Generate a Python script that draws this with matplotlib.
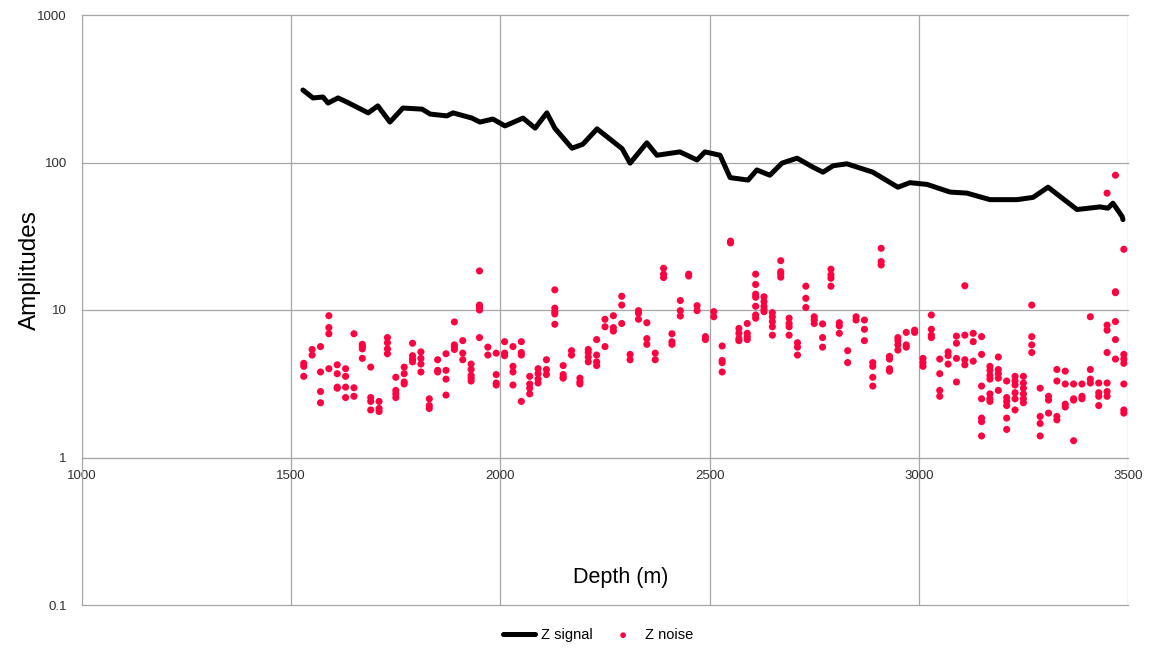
import numpy as np
import matplotlib
matplotlib.use("Agg")
import matplotlib.pyplot as plt
from matplotlib import ticker

plt.rcParams['font.family'] = ['Liberation Sans', 'DejaVu Sans']

# Z signal trace (depth in m, amplitude)
signal_depth = [1528, 1552, 1576, 1588, 1612, 1633, 1684, 1707, 1736, 1767, 1813, 1832,
                1872, 1887, 1932, 1951, 1982, 2011, 2054, 2083, 2111, 2130, 2171, 2197,
                2231, 2291, 2310, 2350, 2374, 2429, 2470, 2489, 2525, 2549, 2592, 2613,
                2644, 2673, 2709, 2747, 2771, 2795, 2828, 2890, 2950, 2979, 3020, 3075,
                3115, 3170, 3235, 3273, 3309, 3378, 3433, 3452, 3464, 3486, 3488]
signal_amp = [310, 274, 278, 253, 274, 257, 217, 242, 188, 234, 230, 213,
              207, 217, 200, 188, 197, 177, 200, 171, 217, 171, 125, 133,
              169, 124, 99, 136, 112, 118, 104, 118, 112, 79, 76, 89,
              82, 99, 107, 93, 86, 95, 98, 86, 68, 73, 71, 63,
              62, 56, 56, 58, 68, 48, 50, 49, 53, 43, 41]

# Z noise, sampled every 20 m, several picks per depth
noise_depth = list(range(1530, 3491, 20))
noise_amp = [
    [4.35, 4.15, 3.55], [5.4, 4.95], [5.65, 3.8, 2.8, 2.35], [9.15, 7.6, 6.9, 4.0],
    [4.25, 3.7, 3.0, 2.95], [4.0, 3.55, 3.0, 2.55], [6.9, 2.97, 2.6], [5.85, 5.65, 5.45, 4.7],
    [4.1, 2.55, 2.4, 2.1], [2.4, 2.15, 2.05], [6.5, 6.0, 5.45, 5.05], [3.5, 2.85, 2.7, 2.55],
    [4.1, 3.7, 3.25, 3.15], [5.95, 4.9, 4.65, 4.45], [5.2, 4.7, 4.3, 3.8], [2.5, 2.25, 2.15],
    [4.6, 3.9, 3.8], [5.05, 3.9, 3.4, 2.65], [8.3, 5.8, 5.6, 5.4], [6.2, 5.1, 4.6],
    [4.3, 3.95, 3.6, 3.45, 3.3], [18.4, 10.8, 10.4, 10.0, 6.5], [5.6, 4.95], [5.1, 3.65, 3.2, 3.1],
    [6.1, 5.1, 4.9], [5.65, 4.15, 3.8, 3.1], [6.1, 5.15, 4.95, 2.4], [3.55, 3.15, 2.95, 2.7],
    [4.0, 3.7, 3.4, 3.2], [4.6, 3.95, 3.65], [13.7, 10.3, 9.75, 9.4, 8.0], [4.2, 3.65, 3.5, 3.45],
    [5.3, 4.95], [3.45, 3.25, 3.15], [5.4, 5.15, 4.8, 4.45], [6.3, 4.95, 4.45, 4.2],
    [8.65, 7.7, 5.65], [9.15, 7.6, 7.2], [12.4, 10.8, 8.1], [5.0, 4.6],
    [9.9, 9.5, 8.65], [8.2, 6.4, 5.85], [5.1, 4.6], [19.2, 17.5, 16.6],
    [6.9, 6.1, 5.85], [11.6, 9.9, 9.1], [17.5, 17.0], [10.7, 9.9],
    [6.6, 6.3], [9.75, 9.0],
    [5.7, 4.55, 4.4, 3.8], [29.3, 28.5], [7.5, 6.95, 6.4, 6.2], [8.1, 6.95, 6.6, 6.3],
    [17.5, 14.9, 12.8, 12.2, 10.6, 9.25, 8.8], [12.3, 11.4, 10.6, 10.1, 9.74],
    [9.6, 9.0, 8.35, 7.7, 6.75], [21.6, 18.2, 17.5, 16.7], [8.8, 8.1, 7.7, 6.75],
    [6.0, 5.6, 4.95], [14.5, 12.0, 10.4], [9.0, 8.55, 8.1], [8.05, 6.5, 5.6],
    [18.9, 17.3, 16.4, 14.5], [8.2, 7.8, 6.95], [5.3, 4.4], [9.0, 8.55],
    [8.55, 7.4, 6.2], [4.4, 4.15, 3.5, 3.05], [26.2, 21.3, 20.2], [4.85, 4.65, 4.0, 3.85],
    [6.5, 6.2, 5.8, 5.35], [7.05, 5.8, 5.6], [7.3, 7.05], [4.7, 4.4, 4.15],
    [9.25, 7.4, 6.75, 6.5], [4.65, 3.7, 2.85, 2.6], [5.2, 4.9, 4.3], [6.65, 5.95, 4.7, 3.25],
    [14.6, 6.75, 4.6, 4.25], [6.95, 6.1, 4.5], [6.6, 5.0, 3.05, 2.5, 1.85, 1.75, 1.4],
    [4.15, 3.9, 3.6, 3.4, 2.7, 2.5, 2.4], [4.8, 3.95, 3.7, 3.45, 2.85],
    [3.3, 2.55, 2.4, 2.25, 1.85, 1.55], [3.55, 3.3, 3.1, 2.75, 2.5, 2.1],
    [3.55, 3.2, 2.95, 2.7, 2.5, 2.35], [10.8, 6.6, 5.8, 5.15], [2.95, 1.9, 1.7, 1.4],
    [2.6, 2.45, 2.0], [3.95, 3.3, 1.9, 1.8], [3.85, 3.15, 2.3, 2.2], [3.15, 2.5, 2.45, 1.3],
    [3.15, 2.6, 2.5], [9.0, 3.95, 3.4, 3.2], [3.2, 2.75, 2.6, 2.25],
    [62, 7.9, 7.3, 5.15, 3.2, 2.8, 2.6], [82, 13.3, 13.1, 8.35, 6.3, 4.65],
    [25.8, 5.0, 4.65, 4.35, 3.15, 2.1, 2.0],
]

x_noise = []
y_noise = []
for d, vals in zip(noise_depth, noise_amp):
    for v in vals:
        x_noise.append(d)
        y_noise.append(v)

fig = plt.figure(figsize=(11.55, 6.49), dpi=100)
ax = fig.add_axes([82 / 1155, 1 - 605 / 649, (1128 - 82) / 1155, (605 - 15) / 649])

ax.plot(signal_depth, signal_amp, color='black', lw=3.6, solid_joinstyle='round',
        solid_capstyle='round', label='Z signal', zorder=3)
ax.scatter(x_noise, y_noise, s=26, color='#ff0040', edgecolors='none',
           label='Z noise', zorder=4)

ax.set_yscale('log')
ax.set_ylim(0.1, 1000)
ax.set_xlim(1000, 3500)
ax.set_xticks([1000, 1500, 2000, 2500, 3000, 3500])
ax.set_yticks([0.1, 1, 10, 100, 1000])
ax.yaxis.set_major_formatter(ticker.FuncFormatter(lambda v, p: f'{v:g}'))
ax.yaxis.set_minor_locator(ticker.NullLocator())

ax.grid(True, color='#a6a6a6', lw=0.9)
for gl in ax.get_xgridlines() + ax.get_ygridlines():
    gl.set_clip_on(False)
ax.set_axisbelow(True)
for s in ['top', 'right']:
    ax.spines[s].set_visible(False)
ax.spines['left'].set_color('#a6a6a6')
ax.spines['bottom'].set_position(('data', 1))
ax.spines['bottom'].set_color('#a6a6a6')
ax.tick_params(axis='both', length=0, labelsize=9.5, colors='#303030')
ax.tick_params(axis='x', pad=9)
ax.tick_params(axis='y', pad=11)

fig.text(621 / 1155, 1 - 578 / 649, 'Depth (m)', fontsize=15.5, ha='center', va='center')
fig.text(30 / 1155, 1 - 270 / 649, 'Amplitudes', fontsize=17.5, rotation=90,
         ha='center', va='center')

fig.legend(loc='center', bbox_to_anchor=(598 / 1155, 1 - 635 / 649), ncol=2,
           frameon=False, fontsize=10.5, handlelength=2.2, handletextpad=0.4,
           columnspacing=1.0, markerscale=0.8)

fig.savefig('out.png', dpi=100)
